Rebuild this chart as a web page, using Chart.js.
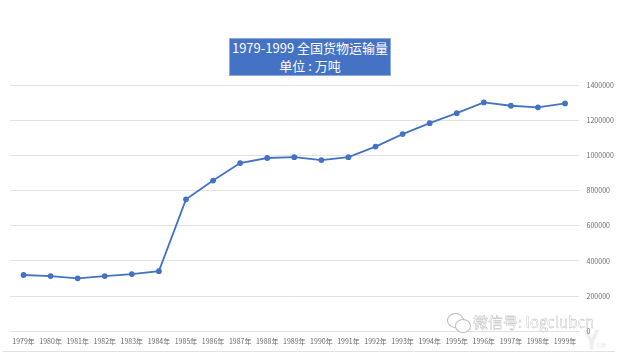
<!DOCTYPE html>
<html lang="zh">

<head>
    <meta charset="UTF-8">
    <title>1979-1999 全国货物运输量</title>
    <script src="https://cdn.jsdelivr.net/npm/chart.js"></script>
    <style>
        html, body { margin: 0; padding: 0; background: #fff; }
        #wrap { position: relative; width: 630px; height: 362px; overflow: hidden; font-family: "Noto Sans CJK SC", sans-serif; }
        #title {
            position: absolute; left: 229px; top: 38px; width: 160px; height: 36px;
            background: #4472c4; border: 1px solid #8faadc; color: #fff;
            font-size: 13px; line-height: 18px; text-align: center; white-space: nowrap;
        }
        #baseline { position: absolute; left: 3px; top: 351px; width: 612px; height: 1px; background: #e2e2e2; }
        #mark {
            position: absolute; left: 473px; top: 310px; font-size: 15px; line-height: 24px; white-space: nowrap;
            color: #fff; -webkit-text-stroke: 0.3px #a8a8a8;
        }
        .bubble { position: absolute; border: 1px solid #bcbcbc; border-radius: 50%; background: #fff; }
        #bubbleA { left: 447px; top: 313px; width: 15px; height: 13px; }
        #bubbleB { left: 455px; top: 319px; width: 14px; height: 12px; }
        #logoY { position: absolute; left: 584px; top: 325px; font-size: 26px; line-height: 26px; font-weight: bold; color: #eeeeee; }
        #logo { position: absolute; left: 596px; top: 341px; font-size: 5px; line-height: 8px; color: #e6e6e6; }
    </style>
</head>

<body>
    <div id="wrap">
        <div id="logoY">Y</div>
        <div id="logo">亿欧</div>
        <canvas id="freightChart" width="630" height="362" style="position:absolute;left:0;top:0"></canvas>
        <div id="baseline"></div>
        <div id="title">1979-1999 全国货物运输量<br>单位 : 万吨</div>
        <div class="bubble" id="bubbleA"></div>
        <div class="bubble" id="bubbleB"></div>
        <div id="mark">微信号: logclubcn</div>
    </div>

    <script>
        const years = ['1979年', '1980年', '1981年', '1982年', '1983年', '1984年', '1985年',
            '1986年', '1987年', '1988年', '1989年', '1990年', '1991年', '1992年',
            '1993年', '1994年', '1995年', '1996年', '1997年', '1998年', '1999年'];
        const freight = [320000, 314000, 301000, 314000, 325000, 342000, 750000,
            857000, 956000, 985000, 990000, 973000, 990000, 1050000,
            1121000, 1183000, 1240000, 1301000, 1282000, 1273000, 1295000];

        const ctx = document.getElementById('freightChart').getContext('2d');

        const freightChart = new Chart(ctx, {
            type: 'line',
            data: {
                labels: years,
                datasets: [{
                    label: '全国货物运输量',
                    data: freight,
                    borderColor: '#4472c4',
                    backgroundColor: '#4472c4',
                    borderWidth: 1.8,
                    pointRadius: 2,
                    pointHoverRadius: 2
                }]
            },
            options: {
                responsive: false,
                animation: false,
                layout: {
                    padding: { top: 85, left: 10, right: 0, bottom: 0 }
                },
                plugins: {
                    legend: { display: false },
                    title: { display: false },
                    tooltip: { enabled: false }
                },
                scales: {
                    x: {
                        offset: true,
                        grid: { display: false },
                        border: { display: false },
                        afterFit: (axis) => { axis.height = 30.7; },
                        ticks: {
                            color: '#6a6a6a',
                            font: { size: 7, family: '"Noto Sans CJK SC", sans-serif' },
                            maxRotation: 0,
                            autoSkip: false,
                            padding: -2
                        }
                    },
                    y: {
                        position: 'right',
                        min: 0,
                        max: 1400000,
                        grid: { color: '#e2e2e2', drawTicks: false },
                        border: { display: false },
                        afterFit: (axis) => { axis.width = 51.4; },
                        ticks: {
                            stepSize: 200000,
                            color: '#6a6a6a',
                            font: { size: 7, family: '"Noto Sans CJK SC", sans-serif' },
                            padding: 8,
                            callback: (value) => String(value)
                        }
                    }
                }
            }
        });
    </script>
</body>

</html>
